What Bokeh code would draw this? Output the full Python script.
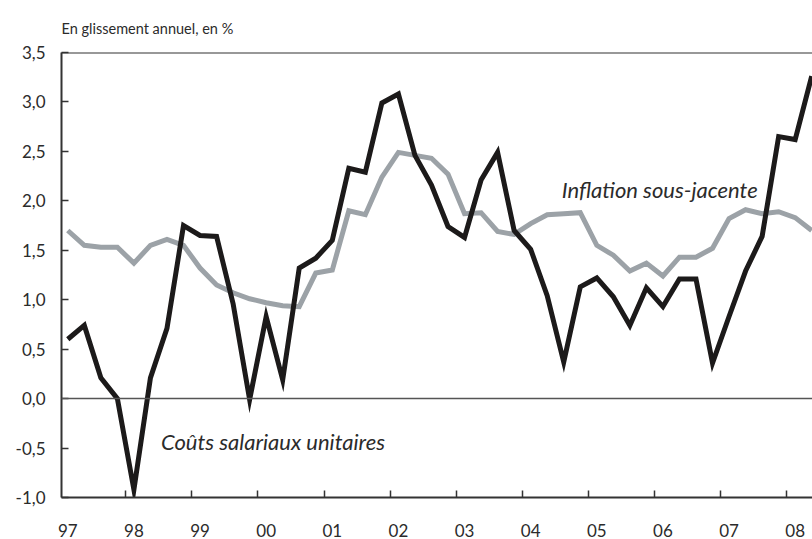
from bokeh.plotting import figure
from bokeh.models import FixedTicker, Span, Label, Range1d
from bokeh.embed import file_html
from bokeh.resources import INLINE

# Quarterly data, 1997 Q1 .. 2008 Q2
years = list(range(1997, 2009))
year_labels = ["97", "98", "99", "00", "01", "02", "03", "04", "05", "06", "07", "08"]
quarters = [y + q / 4 for y in years for q in range(4)][:46]

couts_salariaux = [
    0.60, 0.74, 0.21, 0.00, -0.92, 0.21, 0.71, 1.75,
    1.65, 1.64, 0.96, -0.01, 0.83, 0.19, 1.32, 1.42,
    1.60, 2.33, 2.29, 2.99, 3.08, 2.46, 2.16, 1.74,
    1.63, 2.21, 2.49, 1.70, 1.51, 1.04, 0.37, 1.13,
    1.22, 1.03, 0.74, 1.12, 0.93, 1.21, 1.21, 0.36,
    0.83, 1.29, 1.64, 2.65, 2.62, 3.26,
]
inflation_sj = [
    1.70, 1.55, 1.53, 1.53, 1.37, 1.55, 1.61, 1.55,
    1.32, 1.15, 1.07, 1.01, 0.97, 0.94, 0.93, 1.27,
    1.30, 1.90, 1.86, 2.24, 2.49, 2.46, 2.43, 2.27,
    1.87, 1.88, 1.69, 1.66, 1.77, 1.86, 1.87, 1.88,
    1.55, 1.45, 1.29, 1.37, 1.24, 1.43, 1.43, 1.52,
    1.82, 1.91, 1.87, 1.89, 1.83, 1.70,
]
y_ticks = [-1.0, -0.5, 0.0, 0.5, 1.0, 1.5, 2.0, 2.5, 3.0, 3.5]
y_tick_labels = ["-1,0", "-0,5", "0,0", "0,5", "1,0", "1,5", "2,0", "2,5", "3,0", "3,5"]

FONT = "Lato"
TXT = "#2b2b2b"

p = figure(
    width=812, height=539,
    output_backend="svg", toolbar_location=None,
    x_range=Range1d(1996.905, 2008.262), y_range=Range1d(-1.0, 3.5),
    min_border_left=61, min_border_right=0, min_border_top=52, min_border_bottom=41,
    title="En glissement annuel, en %",
)
p.outline_line_color = None
p.grid.visible = False
p.background_fill_color = "white"
p.border_fill_color = "white"

p.title.text_font = FONT
p.title.text_font_size = "14.5px"
p.title.text_font_style = "normal"
p.title.text_color = TXT
p.title.align = "left"
p.title.vertical_align = "top"
p.title.offset = 0
p.title.standoff = 28

# y axis
ya = p.yaxis[0]
ya.ticker = FixedTicker(ticks=y_ticks)
ya.major_label_overrides = {t: l for t, l in zip(y_ticks, y_tick_labels)}
ya.major_tick_in = 7
ya.major_tick_out = 0
ya.minor_tick_line_color = None
ya.axis_line_width = 2
ya.axis_line_color = "#333333"
ya.major_tick_line_color = "#333333"
ya.major_tick_line_width = 1.5
ya.major_label_standoff = 16
ya.major_label_text_font = FONT
ya.major_label_text_font_size = "17px"
ya.major_label_text_color = TXT

# x axis: labels at Q1 of each year, tick marks between Q4 and Q1
xa = p.xaxis[0]
xa.ticker = FixedTicker(ticks=years, minor_ticks=[y - 0.125 for y in years])
xa.major_label_overrides = {y: l for y, l in zip(years, year_labels)}
xa.major_tick_line_color = None
xa.minor_tick_in = 7
xa.minor_tick_out = 0
xa.minor_tick_line_color = "#333333"
xa.minor_tick_line_width = 1.5
xa.axis_line_width = 2
xa.axis_line_color = "#333333"
xa.major_label_standoff = 20
xa.major_label_text_font = FONT
xa.major_label_text_font_size = "17px"
xa.major_label_text_color = TXT

# top border and zero line
p.add_layout(Span(location=3.5, dimension="width", line_color="#333333", line_width=2))
p.add_layout(Span(location=0.0, dimension="width", line_color="#555555", line_width=1.5))

p.line(quarters, inflation_sj, line_color="#9ca2a7", line_width=5, line_join="miter")
p.line(quarters, couts_salariaux, line_color="#1c1a1a", line_width=5, line_join="miter")

p.add_layout(Label(x=2004.47, y=2.11, text="Inflation sous-jacente", text_font=FONT,
                   text_font_style="italic", text_font_size="22px", text_color=TXT,
                   text_baseline="middle"))
p.add_layout(Label(x=1998.41, y=-0.43, text="Coûts salariaux unitaires", text_font=FONT,
                   text_font_style="italic", text_font_size="22px", text_color=TXT,
                   text_baseline="middle"))

open("out.html", "w").write(file_html(p, INLINE))
